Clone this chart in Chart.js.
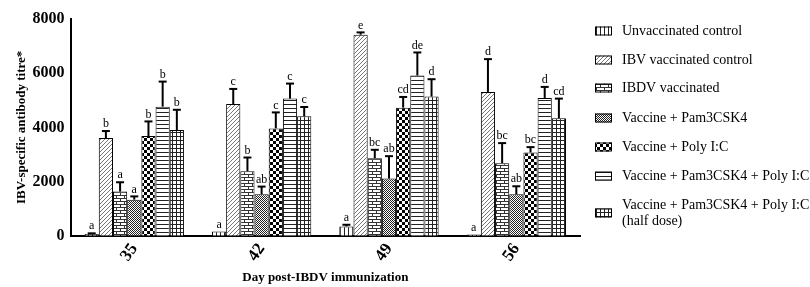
<!DOCTYPE html>
<html>
<head>
<meta charset="utf-8">
<script src="https://cdn.jsdelivr.net/npm/chart.js@4/dist/chart.umd.min.js"></script>
<style>
html,body{margin:0;padding:0;background:#fff;}
#wrap{width:810px;height:287px;position:relative;}
</style>
</head>
<body>
<div id="wrap"><canvas id="c" width="810" height="287"></canvas></div>
<script>
const categories = ['35', '42', '49', '56'];
const seriesNames = [
  'Unvaccinated control',
  'IBV vaccinated control',
  'IBDV vaccinated',
  'Vaccine + Pam3CSK4',
  'Vaccine + Poly I:C',
  'Vaccine + Pam3CSK4 + Poly I:C',
  ['Vaccine + Pam3CSK4 + Poly I:C', '(half dose)']
];
const unvaccinated = [70, 160, 346, 50];
const ibvControl = [3605, 4864, 7420, 5309];
const ibdvVaccinated = [1630, 2383, 2864, 2679];
const pam3 = [1333, 1530, 2111, 1530];
const polyIC = [3680, 3963, 4728, 3074];
const pamPoly = [4765, 5062, 5914, 5086];
const pamPolyHalf = [3900, 4407, 5136, 4333];

const unvaccinatedErr = [20, 0, 60, 0];
const ibvControlErr = [260, 555, 86, 1210];
const ibdvVaccinatedErr = [345, 505, 309, 741];
const pam3Err = [120, 285, 827, 297];
const polyICErr = [540, 590, 395, 198];
const pamPolyErr = [925, 555, 851, 408];
const pamPolyHalfErr = [750, 346, 642, 729];

const unvaccinatedSig = ['a', 'a', 'a', 'a'];
const ibvControlSig = ['b', 'c', 'e', 'd'];
const ibdvVaccinatedSig = ['a', 'b', 'bc', 'bc'];
const pam3Sig = ['a', 'ab', 'ab', 'ab'];
const polyICSig = ['b', 'c', 'cd', 'bc'];
const pamPolySig = ['b', 'c', 'de', 'd'];
const pamPolyHalfSig = ['b', 'c', 'd', 'cd'];

const yTicks = [0, 2000, 4000, 6000, 8000];

// ---- patterns ----
const ctx0 = document.getElementById('c').getContext('2d');
function pat(w, h, draw) {
  const c = document.createElement('canvas');
  c.width = w; c.height = h;
  const g = c.getContext('2d');
  g.fillStyle = '#fff'; g.fillRect(0, 0, w, h);
  g.fillStyle = '#000'; g.strokeStyle = '#000';
  draw(g);
  return ctx0.createPattern(c, 'repeat');
}
const patterns = [
  pat(4, 4, g => { g.fillStyle = '#222'; g.fillRect(0, 0, 1, 4); }),
  pat(4, 4, g => { g.fillStyle = '#777'; for (let i = 0; i < 4; i++) g.fillRect(3 - i, i, 1, 1); }),
  pat(8, 6, g => { g.fillStyle = '#333'; g.fillRect(0, 0, 8, 1); g.fillRect(0, 3, 8, 1); g.fillRect(0, 0, 1, 3); g.fillRect(4, 3, 1, 3); }),
  pat(2, 2, g => { g.fillStyle = '#222'; g.fillRect(0, 0, 1, 1); g.fillRect(1, 1, 1, 1); }),
  pat(6, 6, g => { g.fillRect(0, 0, 3, 3); g.fillRect(3, 3, 3, 3); }),
  pat(4, 4, g => { g.fillStyle = '#222'; g.fillRect(0, 0, 4, 1); }),
  pat(4, 4, g => { g.fillStyle = '#222'; g.fillRect(0, 0, 4, 1); g.fillRect(0, 0, 1, 4); })
];

const values = [unvaccinated, ibvControl, ibdvVaccinated, pam3, polyIC, pamPoly, pamPolyHalf];
const errs = [unvaccinatedErr, ibvControlErr, ibdvVaccinatedErr, pam3Err, polyICErr, pamPolyErr, pamPolyHalfErr];
const sigs = [unvaccinatedSig, ibvControlSig, ibdvVaccinatedSig, pam3Sig, polyICSig, pamPolySig, pamPolyHalfSig];

const datasets = values.map((v, i) => ({
  label: Array.isArray(seriesNames[i]) ? seriesNames[i].join(' ') : seriesNames[i],
  data: v,
  backgroundColor: patterns[i],
  borderColor: '#000',
  borderWidth: 1,
  categoryPercentage: 0.78,
  barPercentage: 1.0
}));

const SERIF = '"Liberation Serif", "Times New Roman", serif';

const errorPlugin = {
  id: 'errs',
  afterDatasetsDraw(chart) {
    const c = chart.ctx;
    const ys = chart.scales.y;
    c.save();
    chart.data.datasets.forEach((ds, di) => {
      const meta = chart.getDatasetMeta(di);
      meta.data.forEach((el, j) => {
        const v = values[di][j], e = errs[di][j];
        const yTop = ys.getPixelForValue(v + e);
        c.strokeStyle = '#000';
        c.lineWidth = 2;
        if (e > 0) {
          c.beginPath(); c.moveTo(el.x, el.y); c.lineTo(el.x, yTop); c.stroke();
          c.beginPath(); c.moveTo(el.x - 4, yTop); c.lineTo(el.x + 4, yTop); c.stroke();
        }
        c.fillStyle = '#000';
        c.font = '12px ' + SERIF;
        c.textAlign = 'center';
        c.textBaseline = 'bottom';
        c.fillText(sigs[di][j], el.x, yTop - 1);
      });
    });
    c.restore();
  }
};

const legendPlugin = {
  id: 'customLegend',
  afterDraw(chart) {
    const c = chart.ctx;
    c.save();
    const ys = [31, 60, 88, 118, 147, 176, 213];
    const boxX = 595, boxW = 17, boxH = 9, textX = 622;
    c.font = '14px ' + SERIF;
    c.textBaseline = 'middle';
    c.textAlign = 'left';
    seriesNames.forEach((name, i) => {
      const y = ys[i];
      c.fillStyle = patterns[i];
      c.fillRect(boxX, y - boxH / 2, boxW, boxH);
      c.strokeStyle = '#000'; c.lineWidth = 1;
      c.strokeRect(boxX + 0.5, y - boxH / 2 + 0.5, boxW - 1, boxH - 1);
      c.fillStyle = '#000';
      if (Array.isArray(name)) {
        c.fillText(name[0], textX, y - 8);
        c.fillText(name[1], textX, y + 8);
      } else {
        c.fillText(name, textX, y);
      }
    });
    c.restore();
  }
};

new Chart(document.getElementById('c'), {
  type: 'bar',
  data: { labels: categories, datasets },
  options: {
    responsive: false,
    animation: false,
    layout: { padding: { top: 19, right: 230, left: 14, bottom: 2 } },
    plugins: { legend: { display: false }, tooltip: { enabled: false } },
    scales: {
      x: {
        grid: { display: false, drawTicks: true, tickLength: 4, tickColor: '#000', tickWidth: 2 },
        border: { color: '#000', width: 2 },
        ticks: { color: '#000', font: { family: SERIF, size: 17, weight: 'bold' }, minRotation: 55, maxRotation: 55, padding: 0 },
        title: { display: true, text: 'Day post-IBDV immunization', color: '#000', font: { family: SERIF, size: 13, weight: 'bold' }, padding: { top: 4, bottom: 0 } }
      },
      y: {
        min: 0, max: 8000,
        afterBuildTicks(scale) { scale.ticks = yTicks.map(v => ({ value: v })); },
        grid: { display: false, drawTicks: true, tickLength: 5, tickColor: '#000', tickWidth: 2 },
        border: { color: '#000', width: 2 },
        ticks: { color: '#000', font: { family: SERIF, size: 16, weight: 'bold' }, padding: 1, callback: v => String(v) },
        title: { display: true, text: 'IBV-specific antibody titre*', color: '#000', font: { family: SERIF, size: 13, weight: 'bold' }, padding: { top: 0, bottom: 2 } }
      }
    }
  },
  plugins: [errorPlugin, legendPlugin]
});
</script>
</body>
</html>
